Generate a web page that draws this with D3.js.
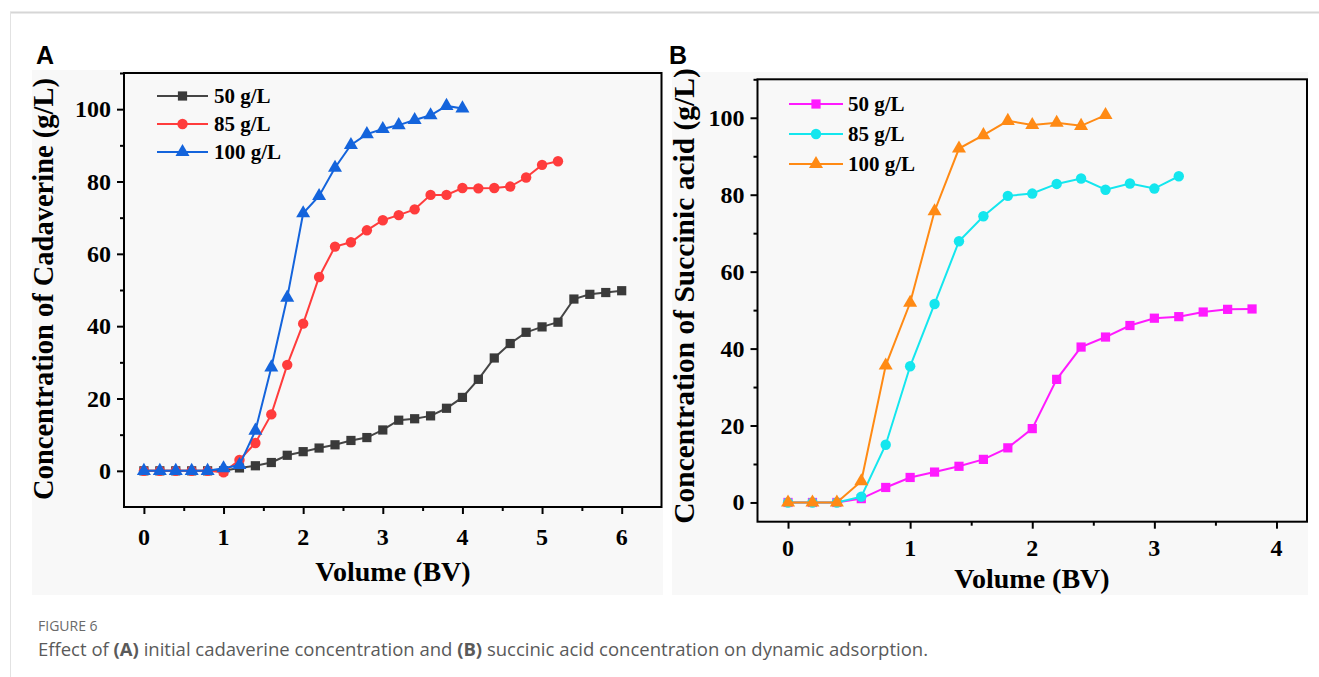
<!DOCTYPE html>
<html>
<head>
<meta charset="utf-8">
<script src="https://cdn.jsdelivr.net/npm/d3@7"></script>
<style>
  body { margin: 0; background: #fff; }
  svg { display: block; }
</style>
</head>
<body>
<script>
// volume (BV) sampled every 0.2
const volA = [0, 0.2, 0.4, 0.6, 0.8, 1.0, 1.2, 1.4, 1.6, 1.8, 2.0, 2.2, 2.4, 2.6, 2.8, 3.0,
              3.2, 3.4, 3.6, 3.8, 4.0, 4.2, 4.4, 4.6, 4.8, 5.0, 5.2, 5.4, 5.6, 5.8, 6.0];
const volB = [0, 0.2, 0.4, 0.6, 0.8, 1.0, 1.2, 1.4, 1.6, 1.8, 2.0, 2.2, 2.4, 2.6, 2.8, 3.0,
              3.2, 3.4, 3.6, 3.8];

// panel A: cadaverine
const cadav50 = [0, 0, 0, 0, 0, 0, 0.8, 1.4, 2.3, 4.3, 5.3, 6.3, 7.2, 8.4, 9.2, 11.3, 14.0,
                 14.4, 15.2, 17.3, 20.3, 25.3, 31.2, 35.2, 38.3, 39.8, 41.1, 47.5, 48.8, 49.3, 49.8];
const cadav85 = [0, 0, 0, 0, 0, -0.4, 3.0, 7.7, 15.6, 29.3, 40.7, 53.6, 62.0, 63.2, 66.5, 69.3,
                 70.7, 72.3, 76.3, 76.3, 78.2, 78.1, 78.2, 78.6, 81.1, 84.6, 85.6];
const cadav100 = [0, 0, 0, 0, 0, 0.7, 1.6, 11.1, 28.6, 47.9, 71.2, 76.0, 83.8, 90.1, 93.1, 94.5,
                  95.6, 97.0, 98.3, 100.9, 100.2];

// panel B: succinic acid
const succ50 = [0, 0, 0, 1.0, 3.9, 6.5, 7.9, 9.4, 11.2, 14.2, 19.2, 32.0, 40.4, 43.0, 46.0, 47.9,
                48.3, 49.5, 50.2, 50.3];
const succ85 = [0, 0, 0, 1.5, 15.0, 35.4, 51.6, 67.9, 74.4, 79.7, 80.3, 82.8, 84.2, 81.3, 82.9,
                81.6, 84.8];
const succ100 = [0, 0, 0, 5.5, 35.6, 51.9, 75.7, 92.0, 95.5, 99.2, 98.1, 98.7, 97.9, 100.7];

const seriesNames = ["50 g/L", "85 g/L", "100 g/L"];
const xTicksA = [0, 1, 2, 3, 4, 5, 6];
const xTicksB = [0, 1, 2, 3, 4];
const yTicks = [0, 20, 40, 60, 80, 100];

const serif = "'Liberation Serif', 'Times New Roman', serif";

let svg = d3.select("body").append("svg")
    .attr("width", 1319)
    .attr("height", 677);

// page frame lines
svg.append("line").attr("x1", 10).attr("x2", 1319).attr("y1", 12.5).attr("y2", 12.5)
    .attr("stroke", "#d6d6d6").attr("stroke-width", 2);
svg.append("line").attr("x1", 10.5).attr("x2", 10.5).attr("y1", 12).attr("y2", 677)
    .attr("stroke", "#e2e2e2").attr("stroke-width", 1);

function symbolPath(kind) {
    if (kind == "square") return d3.symbol().type(d3.symbolSquare).size(85)();
    if (kind == "circle") return d3.symbol().type(d3.symbolCircle).size(85)();
    return d3.symbol().type(d3.symbolTriangle).size(85)();
}

function drawPanel(p) {
    svg.append("rect")
        .attr("x", p.bg[0]).attr("y", p.bg[1])
        .attr("width", p.bg[2] - p.bg[0]).attr("height", p.bg[3] - p.bg[1])
        .attr("fill", "#f8f8f8");

    svg.append("text")
        .attr("x", p.letterX).attr("y", 64)
        .attr("font-family", "'Liberation Sans', Arial, sans-serif")
        .attr("font-weight", "bold")
        .attr("font-size", "25px")
        .text(p.letter);

    let x = d3.scaleLinear().domain(p.xDomain).range(p.xRange);
    let y = d3.scaleLinear().domain(p.yDomain).range(p.yRange);

    let g = svg.append("g");

    // ticks (outward), major + minor
    let xAxis = d3.axisBottom(x).tickValues(p.xTicks).tickSize(7).tickFormat("");
    let xMinor = d3.axisBottom(x).tickValues(p.xTicks.slice(0, -1).map(d => d + 0.5)).tickSize(4).tickFormat("");
    let yAxis = d3.axisLeft(y).tickValues(yTicks).tickSize(7).tickFormat("");
    let yMinor = d3.axisLeft(y).tickValues(yTicks.map(d => d + 10)).tickSize(4).tickFormat("");

    [[xAxis, "x"], [xMinor, "x"], [yAxis, "y"], [yMinor, "y"]].forEach(function(a) {
        let ax = g.append("g")
            .attr("transform", a[1] == "x" ? "translate(0," + p.yRange[0] + ")" : "translate(" + p.xRange[0] + ",0)")
            .call(a[0]);
        ax.select(".domain").remove();
        ax.selectAll("line").attr("stroke", "#000").attr("stroke-width", 2);
    });

    // tick labels
    g.selectAll(".xl").data(p.xTicks).enter().append("text")
        .attr("x", d => x(d))
        .attr("y", p.xLabelY)
        .attr("text-anchor", "middle")
        .attr("font-family", serif).attr("font-weight", "bold").attr("font-size", "24px")
        .text(d => d);
    g.selectAll(".yl").data(yTicks).enter().append("text")
        .attr("x", p.xRange[0] - 13)
        .attr("y", d => y(d) + 8)
        .attr("text-anchor", "end")
        .attr("font-family", serif).attr("font-weight", "bold").attr("font-size", "24px")
        .text(d => d);

    // axis titles
    g.append("text")
        .attr("x", p.xTitle[0]).attr("y", p.xTitle[1])
        .attr("text-anchor", "middle")
        .attr("font-family", serif).attr("font-weight", "bold").attr("font-size", "28px")
        .text("Volume (BV)");
    g.append("text")
        .attr("transform", "translate(" + p.yTitle[0] + "," + p.yTitle[1] + ") rotate(-90)")
        .attr("text-anchor", "middle")
        .attr("font-family", serif).attr("font-weight", "bold").attr("font-size", p.yTitleSize)
        .text(p.yTitleText);

    // series
    let line = d3.line().x(d => x(d[0])).y(d => y(d[1]));
    p.series.forEach(function(s) {
        let pts = s.values.map((v, i) => [p.vol[i], v]);
        g.append("path")
            .datum(pts)
            .attr("d", line)
            .attr("fill", "none")
            .attr("stroke", s.color)
            .attr("stroke-width", 2);
        g.selectAll(null).data(pts).enter().append("path")
            .attr("transform", d => "translate(" + x(d[0]) + "," + y(d[1]) + ")")
            .attr("d", symbolPath(s.shape))
            .attr("fill", s.mark);
    });

    // legend
    p.series.forEach(function(s, i) {
        let ly = p.legend.y[i];
        g.append("line")
            .attr("x1", p.legend.x0).attr("x2", p.legend.x1)
            .attr("y1", ly).attr("y2", ly)
            .attr("stroke", s.color).attr("stroke-width", 2);
        g.append("path")
            .attr("transform", "translate(" + (p.legend.x0 + p.legend.x1) / 2 + "," + ly + ")")
            .attr("d", symbolPath(s.shape))
            .attr("fill", s.mark);
        g.append("text")
            .attr("x", p.legend.tx).attr("y", ly + 7)
            .attr("font-family", serif).attr("font-weight", "bold").attr("font-size", "21px")
            .text(seriesNames[i]);
    });

    // frame
    g.append("rect")
        .attr("x", p.xRange[0]).attr("y", p.yRange[1])
        .attr("width", p.xRange[1] - p.xRange[0])
        .attr("height", p.yRange[0] - p.yRange[1])
        .attr("fill", "none")
        .attr("stroke", "#000")
        .attr("stroke-width", 2);
}

drawPanel({
    letter: "A", letterX: 36,
    bg: [32, 70, 663, 595],
    xDomain: [-0.25, 6.5], xRange: [124, 661.5],
    yDomain: [-10, 110], yRange: [507, 73],
    xTicks: xTicksA, xLabelY: 545,
    xTitle: [393, 581], yTitle: [53, 289], yTitleSize: "28.5px",
    yTitleText: "Concentration of Cadaverine (g/L)",
    vol: volA,
    series: [
        {values: cadav50, color: "#454545", mark: "#3a3a3a", shape: "square"},
        {values: cadav85, color: "#ff3c3c", mark: "#ff3c3c", shape: "circle"},
        {values: cadav100, color: "#1464dc", mark: "#1464dc", shape: "triangle"}
    ],
    legend: {x0: 157, x1: 208, tx: 214, y: [96, 124, 152]}
});

drawPanel({
    letter: "B", letterX: 669,
    bg: [672, 72, 1308, 595],
    xDomain: [-0.25, 4.25], xRange: [757.5, 1307],
    yDomain: [-5, 110], yRange: [521.7, 79.3],
    xTicks: xTicksB, xLabelY: 556,
    xTitle: [1032, 588], yTitle: [694, 296], yTitleSize: "29.5px",
    yTitleText: "Concentration of Succinic acid (g/L)",
    vol: volB,
    series: [
        {values: succ50, color: "#ff1aff", mark: "#ff1aff", shape: "square"},
        {values: succ85, color: "#14e6ee", mark: "#14e6ee", shape: "circle"},
        {values: succ100, color: "#ff8a14", mark: "#ff8a14", shape: "triangle"}
    ],
    legend: {x0: 789, x1: 843, tx: 848, y: [104, 134, 164]}
});

// caption
const sans = "'Open Sans', 'Noto Sans', sans-serif";
svg.append("text")
    .attr("x", 38).attr("y", 631)
    .attr("font-family", sans).attr("font-size", "14px").attr("fill", "#6a6a6a")
    .text("FIGURE 6");
let cap = svg.append("text")
    .attr("x", 38).attr("y", 656)
    .attr("font-family", sans).attr("font-size", "18.5px").attr("fill", "#5a5a5a");
cap.append("tspan").text("Effect of ");
cap.append("tspan").attr("font-weight", "bold").text("(A)");
cap.append("tspan").text(" initial cadaverine concentration and ");
cap.append("tspan").attr("font-weight", "bold").text("(B)");
cap.append("tspan").text(" succinic acid concentration on dynamic adsorption.");
</script>
</body>
</html>
